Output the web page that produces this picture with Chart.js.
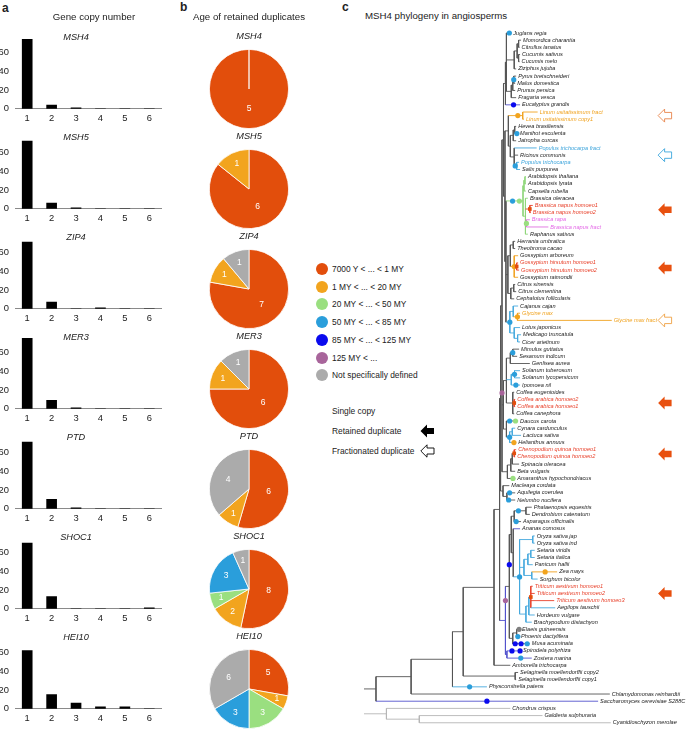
<!DOCTYPE html>
<html>
<head>
<meta charset="utf-8">
<script src="https://cdn.jsdelivr.net/npm/chart.js@4.4.0/dist/chart.umd.min.js"></script>
<style>
body{margin:0;width:686px;height:730px;position:relative;overflow:hidden;background:#fff;font-family:"Liberation Sans",Arial,Helvetica,sans-serif;color:#222}
.t{position:absolute;white-space:nowrap;transform:translate(-50%,-50%);font-size:9.7px;line-height:1;z-index:2}
.g{font-style:italic;font-size:9.2px}
.l{position:absolute;white-space:nowrap;transform:translateY(-50%);font-size:8.4px;line-height:1}
.p{position:absolute;font-weight:bold;font-size:12px;line-height:1}
.dot{position:absolute;width:12px;height:12px;border-radius:50%;transform:translate(-50%,-50%)}
canvas{position:absolute}
svg{position:absolute}
</style>
</head>
<body>
<div class="p" style="left:2px;top:2px">a</div>
<div class="p" style="left:180px;top:1px">b</div>
<div class="p" style="left:342px;top:1px">c</div>
<div class="t" style="left:94px;top:17px">Gene copy number</div>
<div class="t" style="left:249px;top:17px">Age of retained duplicates</div>
<div class="l" style="left:365px;top:16px;font-size:9.7px">MSH4 phylogeny in angiosperms</div>
<div id="legend"></div>
<div class="l" style="left:332px;top:411px">Single copy</div>
<div class="l" style="left:332px;top:431px">Retained duplicate</div>
<div class="l" style="left:332px;top:451px">Fractionated duplicate</div>
<svg style="left:420px;top:424px" width="15" height="15"><path d="M0.5,7 L7,0.5 L7,4 L14,4 L14,10 L7,10 L7,13.5 Z" fill="#000"/></svg>
<svg style="left:420px;top:444px" width="15" height="15"><path d="M0.8,7 L7,0.8 L7,4 L14,4 L14,10 L7,10 L7,13.2 Z" fill="#fff" stroke="#000" stroke-width="0.9"/></svg>
<script>
// ========= Данные: число копий гена =========
const copyNumbers = ['1','2','3','4','5','6'];
const genes = ['MSH4','MSH5','ZIP4','MER3','PTD','SHOC1','HEI10'];
const msh4Copies = [74,4,1,0,0,0];
const msh5Copies = [72,6,1,0,0,0];
const zip4Copies = [71,7,0,1,0,0];
const mer3Copies = [75,9,1,0,0,0];
const ptdCopies = [71,10,1,0,0,0];
const shoc1Copies = [70,13,0,0,0,1];
const hei10Copies = [62,15,6,2,2,0];
const copyCounts = [msh4Copies,msh5Copies,zip4Copies,mer3Copies,ptdCopies,shoc1Copies,hei10Copies];
const copyTicks = [0,20,40,60];

// ========= Данные: возраст дупликатов =========
const ageLabels = ['7000 Y < ... < 1 MY','1 MY < ... < 20 MY','20 MY < ... < 50 MY','50 MY < ... < 85 MY','85 MY < ... < 125 MY','125 MY < ...','Not specifically defined'];
const ageColors = ['#E24E0C','#F2A41E','#9ADF80','#2A9EDB','#0A0AEE','#A8659B','#ABABAB'];
const msh4Ages = [5,0,0,0,0,0,0];
const msh5Ages = [6,1,0,0,0,0,0];
const zip4Ages = [7,1,0,0,0,0,1];
const mer3Ages = [6,1,0,0,0,0,1];
const ptdAges = [6,1,0,0,0,0,4];
const shoc1Ages = [8,2,1,3,0,0,1];
const hei10Ages = [5,1,3,3,0,0,6];
const ageCounts = [msh4Ages,msh5Ages,zip4Ages,mer3Ages,ptdAges,shoc1Ages,hei10Ages];

// ========= Данные: филогения MSH4 =========
const tipNames = ['Juglans regia','Momordica charantia','Citrullus lanatus','Cucumis sativus','Cucumis melo','Ziziphus jujuba',
 'Pyrus bretschneideri','Malus domestica','Prunus persica','Fragaria vesca','Eucalyptus grandis','Linum usitatissimum fract',
 'Linum usitatissimum copy1','Hevea brasiliensis','Manihot esculenta','Jatropha curcas','Populus trichocarpa fract','Ricinus communis',
 'Populus trichocarpa','Salix purpurea','Arabidopsis thaliana','Arabidopsis lyrata','Capsella rubella','Brassica oleracea',
 'Brassica napus homoeo1','Brassica napus homoeo2','Brassica rapa','Brassica napus fract','Raphanus sativus','Herrania umbratica',
 'Theobroma cacao','Gossypium arboreum','Gossypium hirsutum homoeo1','Gossypium hirsutum homoeo2','Gossypium raimondii','Citrus sinensis',
 'Citrus clementina','Cephalotus follicularis','Cajanus cajan','Glycine max','Glycine max fract','Lotus japonicus',
 'Medicago truncatula','Cicer arietinum','Mimulus guttatus','Sesamum indicum','Genlisea aurea','Solanum tuberosum',
 'Solanum lycopersicum','Ipomoea nil','Coffea eugenioides','Coffea arabica homoeo2','Coffea arabica homoeo1','Coffea canephora',
 'Daucus carota','Cynara cardunculus','Lactuca sativa','Helianthus annuus','Chenopodium quinoa homoeo1','Chenopodium quinoa homoeo2',
 'Spinacia oleracea','Beta vulgaris','Amaranthus hypochondriacus','Macleaya cordata','Aquilegia coerulea','Nelumbo nucifera',
 'Phalaenopsis equestris','Dendrobium catenatum','Asparagus officinalis','Ananas comosus','Oryza sativa jap','Oryza sativa ind',
 'Setaria viridis','Setaria italica','Panicum hallii','Zea mays','Sorghum bicolor','Triticum aestivum homoeo1',
 'Triticum aestivum homoeo2','Triticum aestivum homoeo3','Aegilops tauschii','Hordeum vulgare','Brachypodium distachyon','Elaeis guineensis',
 'Phoenix dactylifera','Musa acuminata','Spirodela polyrhiza','Zostera marina','Amborella trichocarpa','Selaginella moellendorffii copy2',
 'Selaginella moellendorffii copy1','Physcomitrella patens','Chlamydomonas reinhardtii','Saccharomyces cerevisiae S288C','Chondrus crispus','Galdieria sulphuraria',
 'Cyanidioschyzon merolae'];
const redTips = [24,25,32,33,51,52,58,59,77,78,79];
const orangeTips = [11,12,39,40];
const blueTips = [16,18];
const pinkTips = [26,27];

// кладa: номер листа или (...) : положение узла | цвет ветви
const fagalesRosales = "(0:511,(((1:521,2:519.5):518.5,(3:520,4:519.5):518.5):517,5:516):514,(((6:516,7:515):513.5,8:515):512.5,9:516):511):506";
const eucalyptus = "10:520|B";
const malpighiales = "((11:538,12:524):522.7|o,(((13:516,14:518):514.5,15:516):513,(16:537|b,17:518,(18:519,19:520):516.5|b):514):510):508";
const brassicales = "(((20:526,21:526):525,22:526):524,(23:528,(24:533,25:531):530|r,(26:530,27:549):526.5|m,28:528):525.5):523|G";
const malvids = "(((29:515,30:515):513,(31:518,(32:518,33:519):516.5|r,34:518):514|o):510,((35:515,36:516):513.5,37:514):510.5):507.5";
const fabaceae = "((38:518,(39:520,40:614):517.3|o):513,(41:520,(42:521,43:520):517.5):514):509.5|b";
const rosids = `((${fagalesRosales},${eucalyptus}):505,(${malpighiales},(${brassicales},${malvids},${fabaceae}):505.5):504.5):503`;
const asterids = "((((44:519,45:517):512.5,46:530):510,((47:520,48:520):514.3,49:520):511|b,(50:514,(51:515,52:515):514|r,53:514):512.5):506,(54:518,((55:515,56:521):512,57:516):509.3|b):506):503";
const caryophyllales = "((((58:516,59:515):514|r,60:519):512,61:515):510.5,62:515):507";
const ranunculales = "(63:509,(64:515,65:515):506.5):502.5";
const eudicots = `((${rosids},${asterids},${caryophyllales}):501.5,${ranunculales}):500`;
const grasses = "((70:535,71:535):533,(((72:535,73:535):531,74:533):528,(75:558|o,76:538):532):524,(((77:533,78:535,79:555,80:556|b):531|r,81:535):529,82:532):526):519.5|b";
const monocots = `(((((66:532,67:530):526,68:521):514,(69:520|B,${grasses}):513):511,((83:520,84:519):516.5,85:530):512.5):509|g,(86:521,87:532):506.5):505|B`;
const angiosperms = `((${eudicots},${monocots}):499,88:510):493.3`;
const treeNewick = `(((((${angiosperms},(89:518,90:516):515):461.7,91:486|b):450.7,92:612):408.3,93:600|B):372.3,(94:510,(95:543,96:613):416.7):383|l):350`;

// точки дупликаций на ветвях (положение, ряд, класс возраста)
const dotX = [509,513.5,513.3,517.7,516.7,515,512.3,519.3,530,526.5,514,516.5,509.5,517.3,512.5,514.3,515.7,501.5,514,509.3,515.3,509.3,513.7,514,512.7,509.3,508.3,518.3,516,505,509,519.5,545.7,531,519,517.7,515,521,527.3,511.7,520,520.7,468.3,486];
const dotRow = [0,6.5,10,11.5,14,18.5,23.4,23.4,24.5,26.5,32.5,32.5,40.25,39.5,44.5,47.5,49,50.1,51.5,54,54,56.25,57,58.5,62,64,65,66.5,68,79,74,75.7,75,78.5,83,84,85,85,85,86,86,87,91,93];
const dotAge = [3,3,4,1,3,3,3,2,0,2,1,0,3,1,3,3,3,5,0,3,2,3,1,0,2,3,3,3,3,5,4,3,1,0,6,3,4,4,3,4,4,3,3,4];

// стрелки справа
const arrowRows = [11.5,17,24.6,32.7,40,51.5,58.6,78];
const arrowFilled = [false,false,true,true,false,true,true,true];
const arrowTint = ['#E8834A','#3AA6DC','#E8500F','#E8500F','#EFA043','#E8500F','#E8500F','#E8500F'];

const branchColors = {g:'#555555',r:'#E8402A',o:'#F0A21E',G:'#8FD67A',b:'#45A8DE',B:'#5252CC',m:'#E070E0',l:'#B5B5B5'};
const FONT = '"Liberation Sans", Arial, sans-serif';

// ========= Панель a: столбики =========
genes.forEach((g,i)=>{
  const d=document.createElement('div'); d.className='t g'; d.textContent=g;
  d.style.left='76px'; d.style.top=(38+100*i)+'px'; document.body.appendChild(d);
  const cv=document.createElement('canvas'); cv.width=166; cv.height=106;
  cv.style.left='0px'; cv.style.top=(22+100*i)+'px'; document.body.appendChild(cv);
  new Chart(cv,{type:'bar',
    data:{labels:copyNumbers,datasets:[{data:copyCounts[i],backgroundColor:'#000',barThickness:10}]},
    options:{responsive:false,animation:false,events:[],
      layout:{padding:{top:6,right:4.5,left:0,bottom:0}},
      plugins:{legend:{display:false},tooltip:{enabled:false}},
      scales:{
        x:{grid:{display:false,drawTicks:false},border:{display:true,color:'#8a8a8a',width:1},
           ticks:{padding:4,color:'#222',font:{size:9.4,family:FONT}}},
        y:{min:0,max:80,grid:{display:false,drawTicks:false},border:{display:false},
           afterBuildTicks:a=>{a.ticks=copyTicks.map(v=>({value:v}));},
           afterFit:a=>{a.width=15;},
           ticks:{padding:6,color:'#222',font:{size:9.4,family:FONT}}}
      }}});
});

// ========= Панель b: круговые =========
const pieLabels={id:'pieLabels',afterDatasetsDraw(c){
  const ctx=c.ctx, vals=c.data.datasets[0].data, tot=vals.reduce((a,b)=>a+b,0);
  ctx.save(); ctx.fillStyle='#fff'; ctx.font='8.5px '+FONT; ctx.textAlign='center'; ctx.textBaseline='middle';
  c.getDatasetMeta(0).data.forEach((a,k)=>{
    if(!vals[k]) return;
    const p=a.getProps(['x','y','startAngle','endAngle','outerRadius']);
    const m=(p.startAngle+p.endAngle)/2, f=Math.max(0.5,0.78-0.55*vals[k]/tot)*p.outerRadius;
    ctx.fillText(vals[k],p.x+Math.cos(m)*f,p.y+Math.sin(m)*f);
  });
  ctx.restore();
}};
genes.forEach((g,i)=>{
  const d=document.createElement('div'); d.className='t g'; d.textContent=g;
  d.style.left='249px'; d.style.top=(37+100*i)+'px'; document.body.appendChild(d);
  const cv=document.createElement('canvas'); cv.width=80; cv.height=80;
  cv.style.left='209px'; cv.style.top=(49+100*i)+'px'; document.body.appendChild(cv);
  new Chart(cv,{type:'pie',
    data:{labels:ageLabels,datasets:[{data:ageCounts[i],backgroundColor:ageColors,borderColor:'#fff',borderWidth:0.8}]},
    options:{responsive:false,animation:false,events:[],plugins:{legend:{display:false},tooltip:{enabled:false}}},
    plugins:[pieLabels]});
});
const leg=document.getElementById('legend');
ageLabels.forEach((s,k)=>{
  const y=269+17.7*k;
  leg.insertAdjacentHTML('beforeend',`<div class="dot" style="left:322px;top:${y}px;background:${ageColors[k]}"></div><div class="l" style="left:332px;top:${y}px">${s.replace(/</g,'&lt;')}</div>`);
});

// ========= Панель c: дерево =========
function parseNewick(str){
  str=str.replace(/\s+/g,''); let i=0;
  function num(){let t='';while(/[0-9.]/.test(str[i]))t+=str[i++];return +t;}
  function node(){
    const n={children:[]};
    if(str[i]==='('){ i++; n.children.push(node()); while(str[i]===','){i++;n.children.push(node());} i++; }
    else n.tip=num();
    if(str[i]===':'){i++;n.x=num();}
    if(str[i]==='|'){i++;n.col=str[i++];}
    return n;
  }
  return node();
}
const tree=parseNewick(treeNewick);
const segs=[], tipX=[];
function walk(n,px,col){
  col=n.col||col;
  if(n.children.length){
    n.children.forEach(ch=>walk(ch,n.x,col));
    const a=n.children[0].y, b=n.children[n.children.length-1].y;
    n.y=(a+b)/2;
    segs.push({x0:n.x,y0:a,x1:n.x,y1:b,col});
  } else { n.y=n.tip; tipX[n.tip]=n.x; }
  if(px!=null) segs.push({x0:px,y0:n.y,x1:n.x,y1:n.y,col});
}
walk(tree,null,'g');

function tipColor(i){
  if(redTips.includes(i)) return '#E8402A';
  if(orangeTips.includes(i)) return '#F0A21E';
  if(blueTips.includes(i)) return '#3AA3DB';
  if(pinkTips.includes(i)) return '#E366E6';
  return '#222';
}
function arrowPath(ctx,x,y){
  ctx.beginPath(); ctx.moveTo(x,y); ctx.lineTo(x+6.5,y-6.5); ctx.lineTo(x+6.5,y-3.2);
  ctx.lineTo(x+13.5,y-3.2); ctx.lineTo(x+13.5,y+3.2); ctx.lineTo(x+6.5,y+3.2); ctx.lineTo(x+6.5,y+6.5); ctx.closePath();
}
const treeText={id:'treeText',afterDatasetsDraw(c){
  const ctx=c.ctx, xs=c.scales.x, ys=c.scales.y;
  ctx.save(); ctx.font='italic 5.6px '+FONT; ctx.textBaseline='middle';
  tipNames.forEach((s,i)=>{ ctx.fillStyle=tipColor(i); ctx.fillText(s,xs.getPixelForValue(tipX[i])+2,ys.getPixelForValue(i)); });
  arrowRows.forEach((r,k)=>{
    arrowPath(ctx,xs.getPixelForValue(661.5),ys.getPixelForValue(r));
    if(arrowFilled[k]){ctx.fillStyle=arrowTint[k];ctx.fill();}
    else {ctx.fillStyle='#fff';ctx.fill();ctx.lineWidth=0.9;ctx.strokeStyle=arrowTint[k];ctx.stroke();}
  });
  ctx.restore();
}};

const dotSets=ageColors.map((c,k)=>({
  data:dotX.map((x,j)=>({x,y:dotRow[j],a:dotAge[j]})).filter(p=>p.a===k),
  backgroundColor:k===6?'#808080':c,borderWidth:0,pointRadius:2.6,pointStyle:k===0?'rect':'circle',showLine:false
}));
const lineSets=segs.map(s=>({data:[{x:s.x0,y:s.y0},{x:s.x1,y:s.y1}],showLine:true,
  borderColor:branchColors[s.col],borderWidth:0.9,pointRadius:0,fill:false}));

const tcv=document.createElement('canvas'); tcv.width=326; tcv.height=730;
tcv.style.left='360px'; tcv.style.top='0px'; document.body.appendChild(tcv);
new Chart(tcv,{type:'scatter',
  data:{datasets:[...dotSets,...lineSets]},
  options:{responsive:false,animation:false,events:[],
    layout:{padding:0},
    plugins:{legend:{display:false},tooltip:{enabled:false}},
    scales:{x:{type:'linear',min:360,max:686,display:false},
            y:{type:'linear',min:-4.033,max:96.45,reverse:true,display:false}}},
  plugins:[treeText]});
</script>
</body>
</html>
